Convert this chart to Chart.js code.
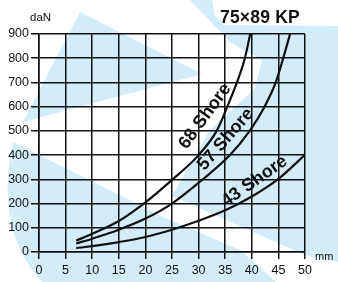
<!DOCTYPE html>
<html>
<head>
<meta charset="utf-8">
<script src="https://cdn.jsdelivr.net/npm/chart.js@4.4.1/dist/chart.umd.min.js"></script>
<style>
  html, body { margin: 0; padding: 0; background: #fff; }
  #wrap { position: relative; width: 338px; height: 282px; overflow: hidden; font-family: "Liberation Sans", Arial, sans-serif; color: #111; }
  #chart { position: absolute; left: 0; top: 0; }
  .lbl { position: absolute; white-space: nowrap; line-height: 1; }
  #title { left: 220px; top: 9px; font-size: 17.5px; font-weight: bold; letter-spacing: 0.2px; }
  #unitY { left: 30px; top: 12px; font-size: 11.5px; }
  #unitX { left: 315px; top: 251px; font-size: 11px; }
</style>
</head>
<body>
<div id="wrap">
  <canvas id="chart" width="338" height="282"></canvas>
  <div class="lbl" id="title">75×89 KP</div>
  <div class="lbl" id="unitY">daN</div>
  <div class="lbl" id="unitX">mm</div>
</div>
<script>
// courbes (mm -> daN)
const shore68X = [7, 10, 15, 20, 25, 30, 33.4, 35.4, 37.2, 38.7, 39.7];
const shore68Y = [47, 75, 128, 205, 298, 400, 500, 600, 700, 800, 900];

const shore57X = [7, 10, 15, 20, 25, 30.8, 35.9, 39.6, 42.4, 44.5, 45.9, 47.2];
const shore57Y = [35, 55, 92, 138, 200, 300, 400, 500, 600, 700, 800, 900];

const shore43X = [7, 10, 15, 20, 25, 30, 35, 40, 45, 50];
const shore43Y = [16, 24, 41, 62, 92, 129, 172, 229, 302, 401];

const curveNames = ["68 Shore", "57 Shore", "43 Shore"];

// fond bleu clair (filigrane), en pixels
const watermarkShapes = [
    [[80, 12], [23, 122], [202, 74]],
    [[190, 0], [212, 0], [214, 14], [224, 25], [338, 26], [338, 262], [305, 255], [172, 196], [210, 130], [255, 88], [262, 60], [230, 42]],
    [[13, 142], [170, 220], [240, 250], [276, 282], [42, 282]]
];

function toPoints(xs, ys) {
    return xs.map((x, i) => ({ x: x, y: ys[i] }));
}

const watermark = {
    id: "watermark",
    beforeDraw(chart) {
        const ctx = chart.ctx;
        ctx.save();
        ctx.fillStyle = "#d3ecf9";
        watermarkShapes.forEach((poly, k) => {
            ctx.beginPath();
            poly.forEach(([x, y], i) => i ? ctx.lineTo(x, y) : ctx.moveTo(x, y));
            if (k === 2) {
                // bord gauche arrondi
                ctx.quadraticCurveTo(-6, 230, 13, 142);
            }
            ctx.closePath();
            ctx.fill();
        });
        ctx.restore();
    }
};

// libellés inclinés le long des courbes
const curveLabels = {
    id: "curveLabels",
    afterDatasetsDraw(chart) {
        const ctx = chart.ctx;
        const xs = chart.scales.x, ys = chart.scales.y;
        const spots = [[31.2, 560, -54], [35.1, 465, -49], [40.5, 292, -35]];
        ctx.save();
        ctx.fillStyle = "#111";
        ctx.font = "bold 18px 'Liberation Sans', Arial, sans-serif";
        ctx.textAlign = "center";
        ctx.textBaseline = "middle";
        spots.forEach(([x, y, a], i) => {
            ctx.save();
            ctx.translate(xs.getPixelForValue(x), ys.getPixelForValue(y));
            ctx.rotate(a * Math.PI / 180);
            ctx.fillText(curveNames[i], 0, 0);
            ctx.restore();
        });
        ctx.restore();
    }
};

const lineStyle = {
    borderColor: "#111",
    borderWidth: 2.2,
    pointRadius: 0,
    fill: false,
    cubicInterpolationMode: "monotone"
};

new Chart(document.getElementById("chart"), {
    type: "line",
    data: {
        datasets: [
            Object.assign({ label: curveNames[0], data: toPoints(shore68X, shore68Y) }, lineStyle),
            Object.assign({ label: curveNames[1], data: toPoints(shore57X, shore57Y) }, lineStyle),
            Object.assign({ label: curveNames[2], data: toPoints(shore43X, shore43Y) }, lineStyle)
        ]
    },
    options: {
        responsive: false,
        devicePixelRatio: 1,
        animation: false,
        layout: { padding: { top: 34, right: 33, left: 0, bottom: 0 } },
        plugins: { legend: { display: false }, tooltip: { enabled: false } },
        scales: {
            x: {
                type: "linear",
                min: 0,
                max: 50,
                afterFit: s => { s.height = 30; },
                ticks: { stepSize: 5, color: "#111", padding: 4, font: { size: 12.5, family: "'Liberation Sans', Arial, sans-serif" } },
                grid: { color: "#111", lineWidth: 1.5, tickLength: 7 },
                border: { color: "#111", width: 1.6 }
            },
            y: {
                min: 0,
                max: 900,
                afterFit: s => { s.width = 39; },
                ticks: { stepSize: 100, color: "#111", padding: 2, font: { size: 12.5, family: "'Liberation Sans', Arial, sans-serif" } },
                grid: { color: "#111", lineWidth: 1.5, tickLength: 8 },
                border: { color: "#111", width: 1.6 }
            }
        }
    },
    plugins: [watermark, curveLabels]
});
</script>
</body>
</html>
